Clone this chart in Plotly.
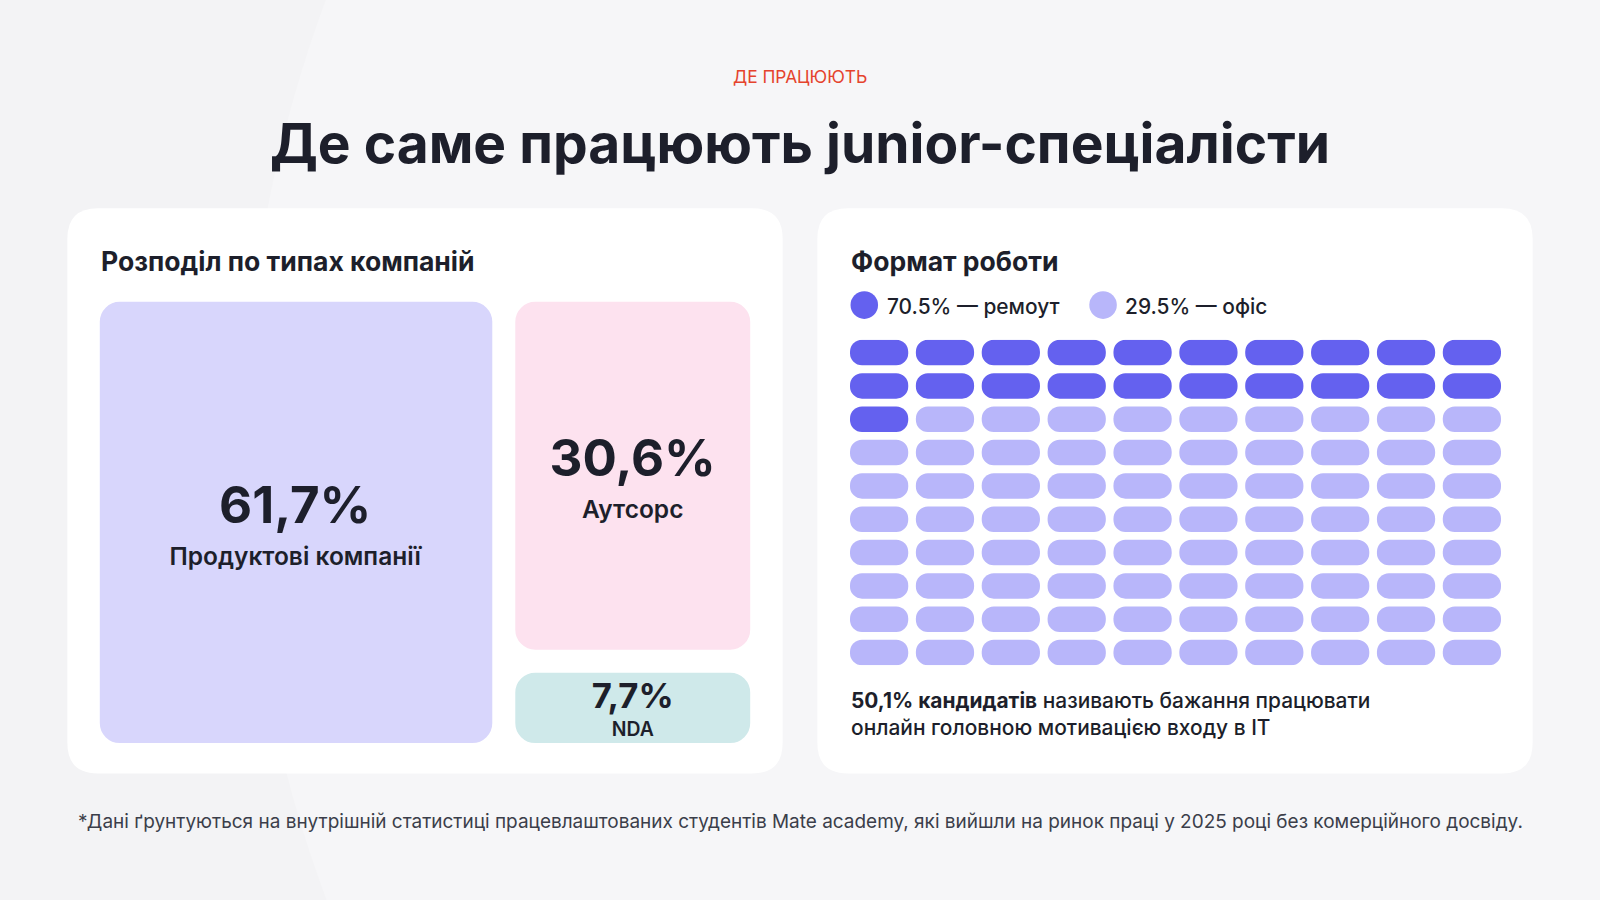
import plotly.graph_objects as go

# ---------------- data ----------------
company_types = ["Продуктові компанії", "Аутсорс", "NDA"]
company_shares = [61.7, 30.6, 7.7]
company_share_labels = ["61,7%", "30,6%", "7,7%"]

work_formats = ["ремоут", "офіс"]
work_format_labels = ["70.5%", "29.5%"]
waffle_cells = [21, 79]          # pills per format, as drawn in the reference
grid_cols = 10

# ---------------- styles ----------------
company_colors = ["#D8D6FC", "#FDE2EF", "#CFE9EA"]
work_format_colors = ["#6461EF", "#B8B6FA"]
pct_font_px = [50, 50, 34]       # size of the percentage in each tile
lbl_font_px = [24, 24, 19]       # size of the label in each tile
base_font_px = [32, 32, 21]      # controls line spacing

# ---------------- helpers (reference is 1568 x 882) ----------------
W0, H0 = 1568.0, 882.0
FS = 1600.0 / 1568.0


def px(x):
    return x / W0


def py(y):
    return 1 - y / H0


def rrect(x0, y0, x1, y1, r):
    X0, X1, Yt, Yb = px(x0), px(x1), py(y0), py(y1)
    rx, ry = r / W0, r / H0
    return (f"M{X0+rx},{Yt} L{X1-rx},{Yt} Q{X1},{Yt} {X1},{Yt-ry} "
            f"L{X1},{Yb+ry} Q{X1},{Yb} {X1-rx},{Yb} L{X0+rx},{Yb} "
            f"Q{X0},{Yb} {X0},{Yb+ry} L{X0},{Yt-ry} Q{X0},{Yt} {X0+rx},{Yt} Z")


DARK = "#1D1F2B"
FONT = "Inter"

fig = go.Figure()

# ---------------- treemap (company types) ----------------
custom = [[lab, round(p * FS, 1), round(l * FS, 1)]
          for lab, p, l in zip(company_share_labels, pct_font_px, lbl_font_px)]
fig.add_trace(go.Treemap(
    labels=company_types,
    parents=[""] * len(company_types),
    values=company_shares,
    customdata=custom,
    branchvalues="remainder",
    sort=False,
    root_color="rgba(0,0,0,0)",
    marker=dict(colors=company_colors, cornerradius=30,
                line=dict(color="white", width=20),
                pad=dict(t=0, l=0, r=0, b=0)),
    pathbar=dict(visible=False),
    texttemplate=("<span style='font-size:%{customdata[1]}px'><b>%{customdata[0]}</b></span>"
                  "<br><span style='font-size:%{customdata[2]}px'>%{label}</span>"),
    textposition="middle center",
    textfont=dict(family=FONT, size=[b * FS for b in base_font_px], color=DARK, weight=600),
    hoverinfo="skip",
    tiling=dict(packing="squarify"),
    domain=dict(x=[px(88), px(745)], y=[py(738), py(286)]),
))

# ---------------- waffle (work format) ----------------
pill_len = 0.884
pill_thick = 0.765
start = 0
for name, lab, col, n in zip(work_formats, work_format_labels, work_format_colors, waffle_cells):
    idx = list(range(start, start + n))
    start += n
    fig.add_trace(go.Bar(
        orientation="h",
        y=[i // grid_cols for i in idx],
        base=[i % grid_cols for i in idx],
        x=[pill_len] * n,
        width=pill_thick,
        name=f"{lab} — {name}",
        marker=dict(color=col, cornerradius="50%", line=dict(width=0)),
        showlegend=False,
        hoverinfo="skip",
        xaxis="x", yaxis="y",
    ))

fig.update_layout(
    barmode="overlay",
    xaxis=dict(domain=[px(833), px(1471)], range=[0, grid_cols - 1 + pill_len],
               visible=False, fixedrange=True),
    yaxis=dict(domain=[py(652), py(333)],
               range=[9 + pill_thick / 2, -pill_thick / 2],
               visible=False, fixedrange=True),
)

# ---------------- shapes: background & cards ----------------
shapes = [
    dict(type="circle", xref="paper", yref="paper", layer="below",
         x0=px(240), x1=px(2760), y0=py(1700), y1=py(-820),
         fillcolor="#F6F6F8", line=dict(width=0)),
    dict(type="path", xref="paper", yref="paper", layer="below",
         path=rrect(66, 204, 767, 758, 30), fillcolor="white", line=dict(width=0)),
    dict(type="path", xref="paper", yref="paper", layer="below",
         path=rrect(801, 204, 1502, 758, 30), fillcolor="white", line=dict(width=0)),
]
legend_centers = [(847, 299), (1081, 299)]
for (cx, cy), col in zip(legend_centers, work_format_colors):
    r = 13.5
    shapes.append(dict(type="circle", xref="paper", yref="paper",
                       x0=px(cx - r), x1=px(cx + r), y0=py(cy + r), y1=py(cy - r),
                       fillcolor=col, line=dict(width=0)))

# ---------------- annotations ----------------
ann = []


def text(t, x, y, size, color=DARK, xanchor="left", yanchor="middle", weight=400, align="left"):
    ann.append(dict(text=t, x=px(x), y=py(y), xref="paper", yref="paper",
                    xanchor=xanchor, yanchor=yanchor, showarrow=False, align=align,
                    font=dict(family=FONT, size=size * FS, color=color, weight=weight)))


text("ДЕ ПРАЦЮЮТЬ", 784, 75, 17, color="#E5432D", xanchor="center", weight=400)
text("Де саме працюють junior-спеціалісти", 784, 140, 54, xanchor="center", weight=700)
text("Розподіл по типах компаній", 97, 256, 26, weight=700)
text("Формат роботи", 832, 256, 26, weight=700)
text(f"{work_format_labels[0]} — {work_formats[0]}", 867, 300, 20.5, weight=500)
text(f"{work_format_labels[1]} — {work_formats[1]}", 1101, 300, 20.5, weight=500)
text("<b>50,1% кандидатів</b> називають бажання працювати<br>онлайн головною мотивацією входу в IT",
     832, 700, 20.5, weight=500)
text("*Дані ґрунтуються на внутрішній статистиці працевлаштованих студентів Mate academy, "
     "які вийшли на ринок праці у 2025 році без комерційного досвіду.",
     784, 805, 18.6, color="#3B3E4A", xanchor="center", weight=400)

fig.update_layout(
    width=1600, height=900,
    margin=dict(l=0, r=0, t=0, b=0),
    paper_bgcolor="#F3F3F5",
    plot_bgcolor="rgba(0,0,0,0)",
    shapes=shapes,
    annotations=ann,
    showlegend=False,
    font=dict(family=FONT, color=DARK),
)

fig.write_html("out.html",
               config={"displayModeBar": False},
               post_script="document.body.style.margin='0';document.body.style.overflow='hidden';")
